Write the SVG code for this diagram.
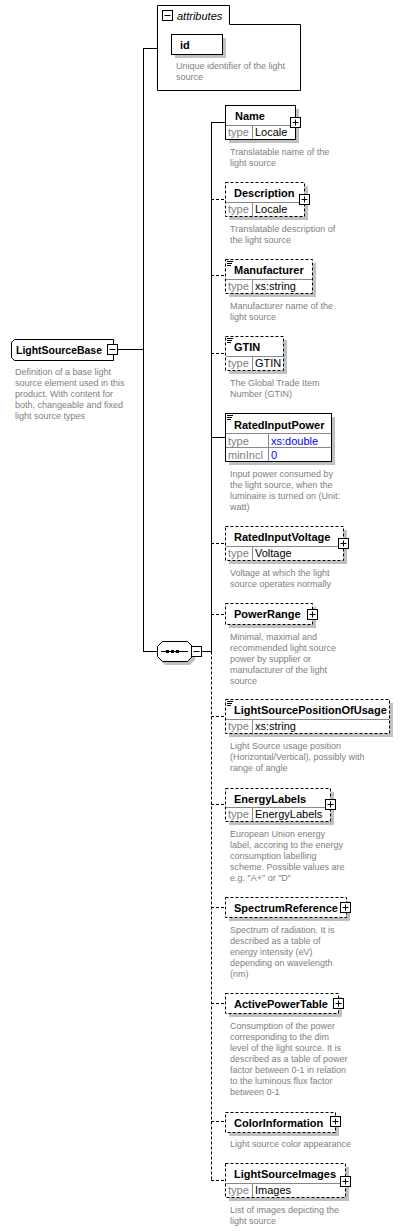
<svg xmlns="http://www.w3.org/2000/svg" xmlns:xlink="http://www.w3.org/1999/xlink" width="404" height="1231" viewBox="0 0 404 1231">
<style>
.bx{fill:#fff;stroke:#000;stroke-width:1}
.d{stroke-dasharray:3,2}
.sh{fill:#c0c0c0}
.dv{stroke:#888;stroke-width:1;fill:none}
.ln{stroke:#000;stroke-width:1;fill:none}
.nm{font-family:"Liberation Sans",Arial,sans-serif;font-size:11px;font-weight:bold;fill:#000}
.tp{font-family:"Liberation Sans",Arial,sans-serif;font-size:11px;fill:#808080}
.tv{font-family:"Liberation Sans",Arial,sans-serif;font-size:11px;fill:#000}
.bl{fill:#0000ff}
.ds{font-family:"Liberation Sans",Arial,sans-serif;font-size:9px;fill:#808080}
.it{font-family:"Liberation Sans",Arial,sans-serif;font-size:11px;font-style:italic;fill:#000}
</style>
<defs>
<g id="plus"><rect x="0.5" y="0.5" width="10" height="10" fill="#fff" stroke="#000"/><path d="M2.5 5.5H8.5M5.5 2.5V8.5" stroke="#000"/></g>
<g id="minus"><rect x="0.5" y="0.5" width="10" height="10" fill="#fff" stroke="#000"/><path d="M2.5 5.5H8.5" stroke="#000"/></g>
<g id="simple"><path d="M2 2.5H8M2 4.5H7M2 6.5H6" stroke="#000"/></g>
</defs>

<g id="connectors" class="ln">
<path d="M117 349.5H143.5M143.5 48V652M143 48.5H157M143 651.5H157M202 651.5H211.5M211.5 122V651.5"/>
<path class="d" d="M211.5 651.5V1180.5"/>
<path d="M211 122.5H225M211 437.5H225"/>
<path class="d" d="M211 199.5H225M211 275.5H225M211 353.5H225M211 543.5H225M211 614.5H225M211 716.5H225M211 804.5H225M211 907.5H225M211 1003.5H225M211 1121.5H225M211 1180.5H225"/>
</g>

<g id="attributes">
<path class="bx" d="M157.5 5.5H229.5V24.5H300.5V90.5H157.5Z"/>
<use xlink:href="#minus" href="#minus" x="162" y="10"/>
<text class="it" x="177" y="20">attributes</text>
<g id="attr-id">
<rect class="sh" x="175" y="38" width="51" height="20"/>
<rect class="bx" x="171.5" y="34.5" width="51" height="20"/>
<text class="nm" x="180" y="49">id</text>
<text class="ds" x="176" y="69">Unique identifier of the light</text>
<text class="ds" x="176" y="80">source</text>
</g>
</g>

<g id="LightSourceBase">
<path class="bx" d="M14.5 339.5H113.5V360.5H14.5L11.5 357.5V342.5Z"/>
<text class="nm" x="16" y="354" textLength="86" lengthAdjust="spacingAndGlyphs">LightSourceBase</text>
<use xlink:href="#minus" href="#minus" x="107" y="344"/>
<text class="ds" x="15" y="375">Definition of a base light</text>
<text class="ds" x="15" y="386">source element used in this</text>
<text class="ds" x="15" y="397">product. With content for</text>
<text class="ds" x="15" y="408">both, changeable and fixed</text>
<text class="ds" x="15" y="419">light source types</text>
</g>

<g id="sequence">
<path class="sh" d="M165 645H190L195 650V660L190 665H165L160 660V650Z"/>
<path class="bx" d="M162.5 641.5H187.5L192.5 646.5V656.5L187.5 661.5H162.5L157.5 656.5V646.5Z"/>
<path d="M161 651.5H188" stroke="#000"/>
<rect x="166" y="650" width="3" height="3" fill="#000"/>
<rect x="171" y="650" width="3" height="3" fill="#000"/>
<rect x="176" y="650" width="3" height="3" fill="#000"/>
<use xlink:href="#minus" href="#minus" x="191" y="646"/>
</g>

<g id="Name">
<rect class="sh" x="229" y="109" width="70" height="34"/>
<rect class="bx" x="225.5" y="105.5" width="70" height="34"/>
<path class="dv" d="M226 125.5H295M252.5 126V139"/>
<text class="nm" x="235" y="120">Name</text>
<text class="tp" x="228" y="136">type</text>
<text class="tv" x="255" y="136">Locale</text>
<use xlink:href="#plus" href="#plus" x="290" y="117"/>
<text class="ds" x="230" y="155">Translatable name of the</text>
<text class="ds" x="230" y="166">light source</text>
</g>

<g id="Description">
<rect class="sh" x="229" y="186" width="79" height="34"/>
<rect class="bx d" x="225.5" y="182.5" width="79" height="34"/>
<path class="dv" d="M226 202.5H304M252.5 203V216"/>
<text class="nm" x="234" y="197">Description</text>
<text class="tp" x="228" y="213">type</text>
<text class="tv" x="255" y="213">Locale</text>
<use xlink:href="#plus" href="#plus" x="299" y="194"/>
<text class="ds" x="230" y="232">Translatable description of</text>
<text class="ds" x="230" y="243">the light source</text>
</g>

<g id="Manufacturer">
<rect class="sh" x="229" y="263" width="87" height="34"/>
<rect class="bx d" x="225.5" y="259.5" width="87" height="34"/>
<path class="dv" d="M226 279.5H312M252.5 280V293"/>
<use xlink:href="#simple" href="#simple" x="225" y="259"/>
<text class="nm" x="234" y="274">Manufacturer</text>
<text class="tp" x="228" y="290">type</text>
<text class="tv" x="255" y="290">xs:string</text>
<text class="ds" x="230" y="309">Manufacturer name of the</text>
<text class="ds" x="230" y="320">light source</text>
</g>

<g id="GTIN">
<rect class="sh" x="229" y="340" width="58" height="34"/>
<rect class="bx d" x="225.5" y="336.5" width="58" height="34"/>
<path class="dv" d="M226 356.5H283M252.5 357V370"/>
<use xlink:href="#simple" href="#simple" x="225" y="336"/>
<text class="nm" x="234" y="351">GTIN</text>
<text class="tp" x="228" y="367">type</text>
<text class="tv" x="255" y="367">GTIN</text>
<text class="ds" x="230" y="386">The Global Trade Item</text>
<text class="ds" x="230" y="397">Number (GTIN)</text>
</g>

<g id="RatedInputPower">
<rect class="sh" x="229" y="417" width="106" height="48"/>
<rect class="bx" x="225.5" y="413.5" width="106" height="48"/>
<path class="dv" d="M226 433.5H331M226 447.5H331M268.5 434V461"/>
<use xlink:href="#simple" href="#simple" x="225" y="413"/>
<text class="nm" x="234" y="429">RatedInputPower</text>
<text class="tp" x="228" y="445">type</text>
<text class="tv bl" x="271" y="445">xs:double</text>
<text class="tp" x="228" y="459">minIncl</text>
<text class="tv bl" x="271" y="459">0</text>
<text class="ds" x="230" y="477">Input power consumed by</text>
<text class="ds" x="230" y="488">the light source, when the</text>
<text class="ds" x="230" y="499">luminaire is turned on (Unit:</text>
<text class="ds" x="230" y="510">watt)</text>
</g>

<g id="RatedInputVoltage">
<rect class="sh" x="229" y="530" width="118" height="34"/>
<rect class="bx d" x="225.5" y="526.5" width="118" height="34"/>
<path class="dv" d="M226 546.5H343M252.5 547V560"/>
<text class="nm" x="234" y="541">RatedInputVoltage</text>
<text class="tp" x="228" y="557">type</text>
<text class="tv" x="255" y="557">Voltage</text>
<use xlink:href="#plus" href="#plus" x="338" y="538"/>
<text class="ds" x="230" y="576">Voltage at which the light</text>
<text class="ds" x="230" y="587">source operates normally</text>
</g>

<g id="PowerRange">
<rect class="sh" x="229" y="607" width="87" height="21"/>
<rect class="bx d" x="225.5" y="603.5" width="87" height="21"/>
<text class="nm" x="234" y="618">PowerRange</text>
<use xlink:href="#plus" href="#plus" x="307" y="609"/>
<text class="ds" x="230" y="640">Minimal, maximal and</text>
<text class="ds" x="230" y="651">recommended light source</text>
<text class="ds" x="230" y="662">power by supplier or</text>
<text class="ds" x="230" y="673">manufacturer of the light</text>
<text class="ds" x="230" y="684">source</text>
</g>

<g id="LightSourcePositionOfUsage">
<rect class="sh" x="229" y="703" width="164" height="34"/>
<rect class="bx d" x="225.5" y="699.5" width="164" height="34"/>
<path class="dv" d="M226 719.5H389M252.5 720V733"/>
<use xlink:href="#simple" href="#simple" x="225" y="699"/>
<text class="nm" x="234" y="714">LightSourcePositionOfUsage</text>
<text class="tp" x="228" y="730">type</text>
<text class="tv" x="255" y="730">xs:string</text>
<text class="ds" x="230" y="749">Light Source usage position</text>
<text class="ds" x="230" y="760">(Horizontal/Vertical), possibly with</text>
<text class="ds" x="230" y="771">range of angle</text>
</g>

<g id="EnergyLabels">
<rect class="sh" x="229" y="792" width="105" height="33"/>
<rect class="bx d" x="225.5" y="788.5" width="105" height="33"/>
<path class="dv" d="M226 807.5H330M252.5 808V821"/>
<text class="nm" x="234" y="803">EnergyLabels</text>
<text class="tp" x="228" y="818">type</text>
<text class="tv" x="255" y="818">EnergyLabels</text>
<use xlink:href="#plus" href="#plus" x="325" y="799"/>
<text class="ds" x="230" y="837">European Union energy</text>
<text class="ds" x="230" y="848">label, accoring to the energy</text>
<text class="ds" x="230" y="859">consumption labelling</text>
<text class="ds" x="230" y="870">scheme. Possible values are</text>
<text class="ds" x="230" y="881">e.g. "A+" or "D"</text>
</g>

<g id="SpectrumReference">
<rect class="sh" x="229" y="901" width="121" height="20"/>
<rect class="bx d" x="225.5" y="897.5" width="121" height="20"/>
<text class="nm" x="234" y="912">SpectrumReference</text>
<use xlink:href="#plus" href="#plus" x="340" y="902"/>
<text class="ds" x="230" y="933">Spectrum of radiation. It is</text>
<text class="ds" x="230" y="944">described as a table of</text>
<text class="ds" x="230" y="955">energy intensity (eV)</text>
<text class="ds" x="230" y="966">depending on wavelength</text>
<text class="ds" x="230" y="977">(nm)</text>
</g>

<g id="ActivePowerTable">
<rect class="sh" x="229" y="997" width="113" height="20"/>
<rect class="bx d" x="225.5" y="993.5" width="113" height="20"/>
<text class="nm" x="234" y="1008">ActivePowerTable</text>
<use xlink:href="#plus" href="#plus" x="333" y="998"/>
<text class="ds" x="230" y="1029">Consumption of the power</text>
<text class="ds" x="230" y="1040">corresponding to the dim</text>
<text class="ds" x="230" y="1051">level of the light source. It is</text>
<text class="ds" x="230" y="1062">described as a table of power</text>
<text class="ds" x="230" y="1073">factor between 0-1 in relation</text>
<text class="ds" x="230" y="1084">to the luminous flux factor</text>
<text class="ds" x="230" y="1095">between 0-1</text>
</g>

<g id="ColorInformation">
<rect class="sh" x="229" y="1116" width="110" height="20"/>
<rect class="bx d" x="225.5" y="1112.5" width="110" height="20"/>
<text class="nm" x="234" y="1127">ColorInformation</text>
<use xlink:href="#plus" href="#plus" x="330" y="1116"/>
<text class="ds" x="230" y="1147">Light source color appearance</text>
</g>

<g id="LightSourceImages">
<rect class="sh" x="229" y="1167" width="120" height="34"/>
<rect class="bx d" x="225.5" y="1163.5" width="120" height="34"/>
<path class="dv" d="M226 1183.5H345M252.5 1184V1197"/>
<text class="nm" x="234" y="1178">LightSourceImages</text>
<text class="tp" x="228" y="1194">type</text>
<text class="tv" x="255" y="1194">Images</text>
<use xlink:href="#plus" href="#plus" x="340" y="1176"/>
<text class="ds" x="230" y="1213">List of images depicting the</text>
<text class="ds" x="230" y="1224">light source</text>
</g>
</svg>
